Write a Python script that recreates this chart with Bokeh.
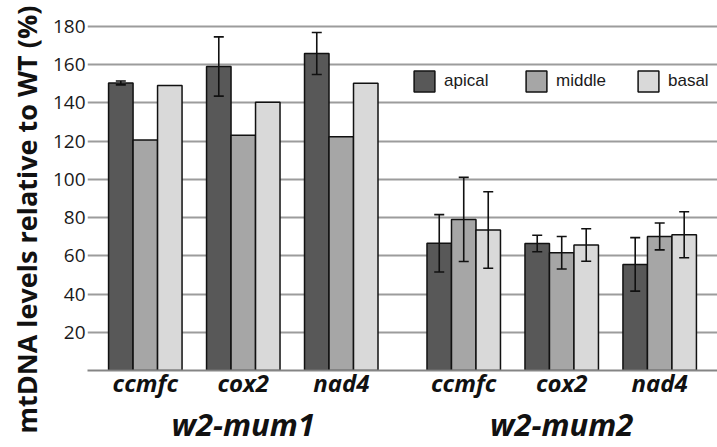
from bokeh.plotting import figure
from bokeh.models import (ColumnDataSource, FactorRange, FixedTicker, Legend,
                          LegendItem, Whisker, TeeHead, Title, CategoricalAxis)
from bokeh.transform import dodge
from bokeh.embed import file_html
from bokeh.resources import INLINE

# ---- data ----
groups = ["w2-mum1", "w2-mum2"]
genes = ["ccmfc", "cox2", "nad4"]
series = ["apical", "middle", "basal"]

apical = [150.4, 159.0, 165.8, 66.5, 66.4, 55.5]
apical_err = [1.0, 15.5, 11.0, 15.0, 4.3, 14.0]
middle = [120.5, 123.0, 122.3, 79.0, 61.6, 70.1]
middle_err = [0.0, 0.0, 0.0, 22.0, 8.5, 7.0]
basal = [149.0, 140.3, 150.2, 73.5, 65.6, 71.0]
basal_err = [0.0, 0.0, 0.0, 20.0, 8.5, 12.0]

y_ticks = [20, 40, 60, 80, 100, 120, 140, 160, 180]
y_title = "mtDNA levels relative to WT (%)"

colors = ["#585858", "#a6a6a6", "#d9d9d9"]
offsets = [-0.25, 0.0, 0.25]

factors = [(g, gene) for g in groups for gene in genes]
source = ColumnDataSource(data=dict(x=factors, apical=apical, middle=middle, basal=basal))

x_range = FactorRange(*factors, factor_padding=0.0, group_padding=0.25,
                      range_padding=0.09, range_padding_units="absolute")

p = figure(width=717, height=447, x_range=x_range, y_range=(0, 193.5),
           output_backend="svg", toolbar_location=None,
           min_border_left=86, min_border_right=0, min_border_top=0,
           min_border_bottom=75, outline_line_color=None)
p.background_fill_color = "white"
p.border_fill_color = "white"

renderers = []
for name, col, off in zip(series, colors, offsets):
    r = p.vbar(x=dodge("x", off, range=p.x_range), top=name, width=0.25,
               source=source, fill_color=col, line_color="#111111", line_width=1.5)
    renderers.append(r)

errs = {"apical": apical_err, "middle": middle_err, "basal": basal_err}
vals = {"apical": apical, "middle": middle, "basal": basal}
for name, off in zip(series, offsets):
    xs, up, lo = [], [], []
    for f, v, e in zip(factors, vals[name], errs[name]):
        if e > 0:
            xs.append(f)
            up.append(v + e)
            lo.append(v - e)
    if not xs:
        continue
    wsrc = ColumnDataSource(data=dict(x=xs, upper=up, lower=lo))
    w = Whisker(base=dodge("x", off, range=p.x_range), upper="upper", lower="lower",
                source=wsrc, line_color="#111111", line_width=1.6, level="overlay",
                upper_head=TeeHead(size=10, line_color="#111111", line_width=1.6),
                lower_head=TeeHead(size=10, line_color="#111111", line_width=1.6))
    p.add_layout(w)

# y axis
p.yaxis.ticker = FixedTicker(ticks=y_ticks)
p.ygrid.ticker = FixedTicker(ticks=y_ticks)
p.ygrid.grid_line_color = "#9c9c9c"
p.ygrid.grid_line_width = 1.8
p.xgrid.grid_line_color = None
p.yaxis.axis_line_color = None
p.yaxis.major_tick_line_color = None
p.yaxis.major_tick_out = 0
p.yaxis.major_tick_in = 0
p.yaxis.minor_tick_line_color = None
p.yaxis.major_label_standoff = 2
p.yaxis.major_label_text_font = "Open Sans"
p.yaxis.major_label_text_font_size = "19px"
p.yaxis.major_label_text_color = "#1a1a1a"

# x axis 1: gene names
ax1 = p.xaxis[0]
ax1.axis_line_color = "#858585"
ax1.axis_line_width = 2
ax1.major_tick_line_color = None
ax1.minor_tick_line_color = None
ax1.major_tick_out = 0
ax1.major_tick_in = 0
ax1.separator_line_color = None
ax1.major_label_standoff = -5
ax1.major_label_text_font = "Open Sans"
ax1.major_label_text_font_size = "24px"
ax1.major_label_text_font_style = "bold italic"
ax1.major_label_text_color = "#111111"
ax1.group_text_font_size = "0px"
ax1.group_text_alpha = 0

# x axis 2: group names (mutant lines)
ax2 = CategoricalAxis()
ax2.axis_line_color = None
ax2.major_tick_line_color = None
ax2.minor_tick_line_color = None
ax2.major_tick_out = 0
ax2.major_tick_in = 0
ax2.separator_line_color = None
ax2.major_label_standoff = 1
ax2.major_label_text_font_size = "0px"
ax2.major_label_text_alpha = 0
ax2.group_text_font = "Open Sans"
ax2.group_text_font_size = "31px"
ax2.group_text_font_style = "bold italic"
ax2.group_text_color = "#111111"
p.add_layout(ax2, "below")

# rotated y title on the left side
p.add_layout(Title(text=y_title, align="left", offset=-63, standoff=10,
                   text_font="Open Sans", text_font_size="27px",
                   text_font_style="bold", text_color="#111111"), "left")

# legend
legend = Legend(items=[LegendItem(label=s, renderers=[r]) for s, r in zip(series, renderers)],
                orientation="horizontal", location=(324, 276),
                glyph_width=26, glyph_height=26, label_standoff=7, label_width=60,
                spacing=19, padding=0, margin=0,
                border_line_color=None, background_fill_alpha=0,
                label_text_font="Liberation Sans", label_text_font_size="17px",
                label_text_color="#1a1a1a")
p.add_layout(legend)

open("out.html", "w").write(file_html(p, INLINE))
